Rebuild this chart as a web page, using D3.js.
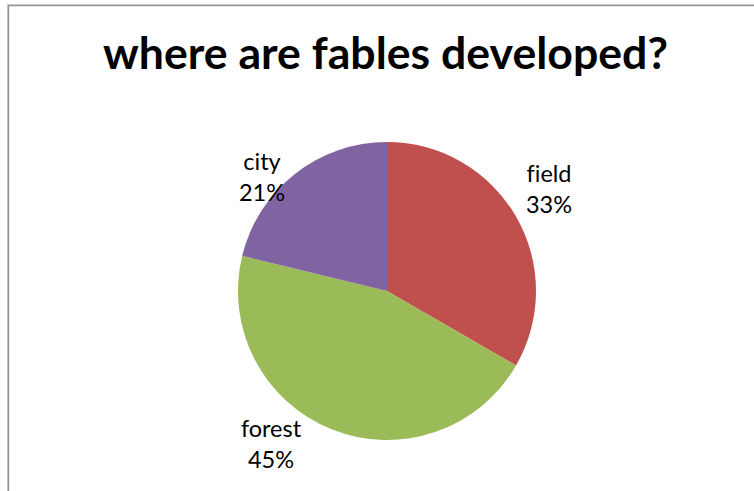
<!DOCTYPE html>
<html>
<head>
<meta charset="utf-8">
<script src="https://cdn.jsdelivr.net/npm/d3@7"></script>
<style>
  html, body { margin: 0; padding: 0; background: #fff; }
  svg { display: block; }
  text { font-family: Lato, "Open Sans", "Liberation Sans", sans-serif; fill: #000; font-variant-ligatures: none; font-feature-settings: "liga" 0; }
</style>
</head>
<body>
<svg id="chart" width="754" height="491"></svg>
<script>
// Chart content
const chartTitle = "where are fables developed?";
const categories = ["field", "forest", "city"];
const percentages = [33, 45, 21];
const sliceColors = ["#C0504D", "#9BBB59", "#8064A2"];

// Label placement relative to the pie centre (pixels), one per category
const labelOffsets = [[162, -103], [-116, 152], [-125, -115]];

const W = 754, H = 491;
const cx = 387, cy = 291, radius = 149;

const svg = d3.select("#chart");

// Chart area frame (runs off the right and bottom edges)
svg.append("path")
  .attr("d", `M8.3,${H + 5} V5.3 H${W + 5}`)
  .attr("fill", "none")
  .attr("stroke", "#959595")
  .attr("stroke-width", 1.8);

// Title, sized to its measured width
const title = svg.append("text")
  .attr("x", 385.5)
  .attr("y", 69)
  .attr("text-anchor", "middle")
  .attr("font-weight", "bold")
  .attr("font-size", 40)
  .text(chartTitle);
const tw = title.node().getComputedTextLength();
title.attr("font-size", 40 * 565 / tw);

const data = categories.map((c, i) => ({ name: c, value: percentages[i], color: sliceColors[i], off: labelOffsets[i] }));

const pie = d3.pie().sort(null).value(d => d.value);
const arc = d3.arc().innerRadius(0).outerRadius(radius);

const g = svg.append("g").attr("transform", `translate(${cx},${cy})`);

g.selectAll("path.slice")
  .data(pie(data))
  .join("path")
  .attr("class", "slice")
  .attr("d", arc)
  .attr("fill", d => d.data.color);

// Data labels: category name above percentage
const labels = g.selectAll("text.lbl")
  .data(pie(data))
  .join("text")
  .attr("class", "lbl")
  .attr("text-anchor", "middle")
  .attr("font-size", 23.5)
  .attr("transform", d => `translate(${d.data.off[0]},${d.data.off[1]})`);

labels.append("tspan")
  .attr("x", 0)
  .attr("y", -6)
  .text(d => d.data.name);
labels.append("tspan")
  .attr("x", 0)
  .attr("y", 25)
  .text(d => d.data.value + "%");
</script>
</body>
</html>
